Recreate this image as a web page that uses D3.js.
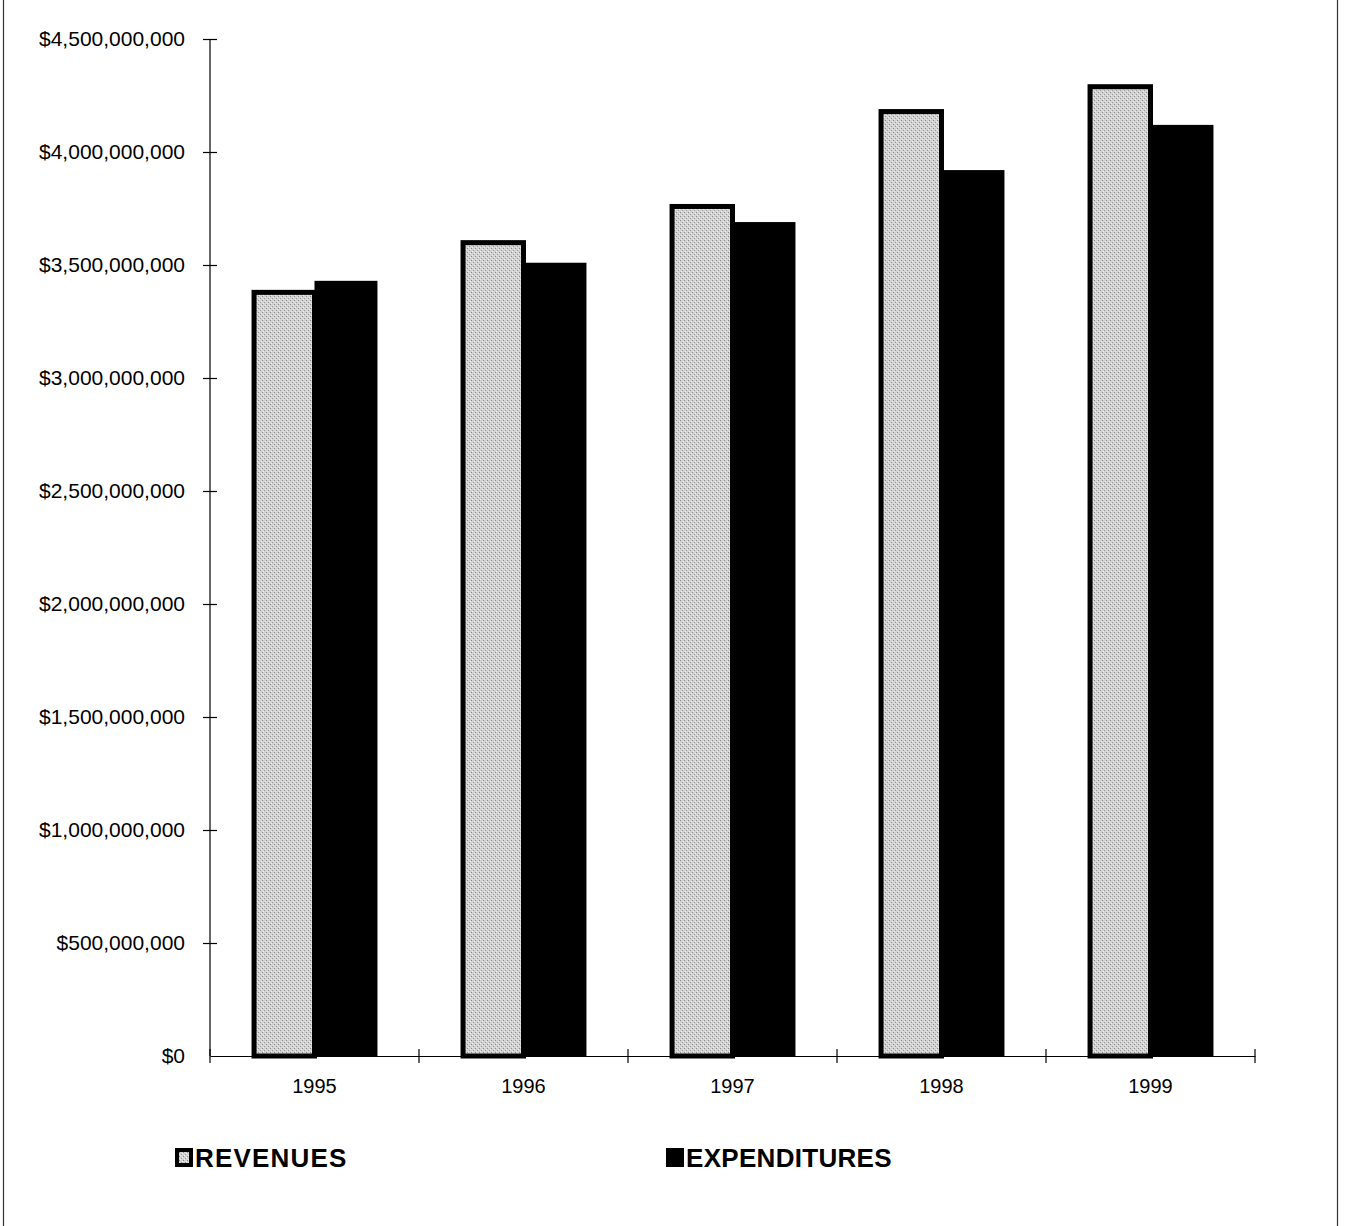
<!DOCTYPE html>
<html>
<head>
<meta charset="utf-8">
<script src="https://cdn.jsdelivr.net/npm/d3@7"></script>
<style>
  html, body { margin: 0; padding: 0; background: #fff; }
  svg { display: block; }
  text { font-family: "Liberation Sans", Arial, Helvetica, sans-serif; fill: #000; }
</style>
</head>
<body>
<svg id="chart" width="1345" height="1226"></svg>
<script>
// Fiscal years shown on the category axis
const years = ["1995", "1996", "1997", "1998", "1999"];
// Series values in dollars
const revenues = [3.39e9, 3.61e9, 3.77e9, 4.19e9, 4.30e9];
const expenditures = [3.43e9, 3.51e9, 3.69e9, 3.92e9, 4.12e9];
const seriesNames = ["REVENUES", "EXPENDITURES"];
// Value axis ticks
const yTicks = [0, 5e8, 1e9, 1.5e9, 2e9, 2.5e9, 3e9, 3.5e9, 4e9, 4.5e9];

const W = 1345, H = 1226;
const plot = { left: 210, right: 1255, top: 39, bottom: 1056 };

const svg = d3.select("#chart");

// stippled grey fill for the revenue bars
const defs = svg.append("defs");
const pat = defs.append("pattern")
  .attr("id", "stipple").attr("width", 4).attr("height", 4)
  .attr("patternUnits", "userSpaceOnUse");
pat.append("rect").attr("width", 4).attr("height", 4).attr("fill", "#d2d2d2");
pat.append("rect").attr("x", 0).attr("y", 0).attr("width", 1).attr("height", 1).attr("fill", "#8a8a8a");
pat.append("rect").attr("x", 2).attr("y", 2).attr("width", 1).attr("height", 1).attr("fill", "#9a9a9a");
pat.append("rect").attr("x", 3).attr("y", 1).attr("width", 1).attr("height", 1).attr("fill", "#f0f0f0");
pat.append("rect").attr("x", 1).attr("y", 3).attr("width", 1).attr("height", 1).attr("fill", "#efefef");

// page frame on the left and right edges
svg.append("line").attr("x1", 3.5).attr("x2", 3.5).attr("y1", 0).attr("y2", H)
  .attr("stroke", "#333").attr("stroke-width", 1.2);
svg.append("line").attr("x1", 1337.5).attr("x2", 1337.5).attr("y1", 0).attr("y2", H)
  .attr("stroke", "#333").attr("stroke-width", 1.2);

const x = d3.scaleBand().domain(years).range([plot.left, plot.right]).padding(0);
const xInner = d3.scaleBand().domain(seriesNames).range([0, x.bandwidth()])
  .paddingInner(0).paddingOuter(0.66);
const y = d3.scaleLinear().domain([0, 4.5e9]).range([plot.bottom, plot.top]);

const rows = years.map((yr, i) => ({ year: yr, values: [revenues[i], expenditures[i]] }));

// bars
const groups = svg.append("g").selectAll("g").data(rows).join("g")
  .attr("transform", d => `translate(${x(d.year)},0)`);

// expenditures first so the revenue outline sits on top
groups.append("rect")
  .attr("x", xInner("EXPENDITURES"))
  .attr("y", d => y(d.values[1]))
  .attr("width", xInner.bandwidth())
  .attr("height", d => y(0) - y(d.values[1]))
  .attr("fill", "#000");

groups.append("rect")
  .attr("x", d => xInner("REVENUES") + 2.5)
  .attr("y", d => y(d.values[0]) + 2.5)
  .attr("width", xInner.bandwidth() - 2.5)
  .attr("height", d => y(0) - y(d.values[0]) - 2.5)
  .attr("fill", "url(#stipple)")
  .attr("stroke", "#000")
  .attr("stroke-width", 5);

// value axis
const yAxis = svg.append("g")
  .attr("transform", `translate(${plot.left},0)`)
  .call(d3.axisLeft(y).tickValues(yTicks).tickSizeOuter(0).tickSizeInner(7).tickPadding(18)
    .tickFormat(d => "$" + d3.format(",")(d)));
yAxis.select(".domain").attr("stroke", "#000").attr("stroke-width", 1.2)
  .attr("d", `M0,${plot.bottom}V${plot.top}`);
yAxis.selectAll(".tick line").attr("x1", -7).attr("x2", 7).attr("stroke-width", 1.2)
  .filter(d => d === 0).remove();
yAxis.selectAll(".tick text").attr("font-size", 21)
  .style("font-family", "'Liberation Sans', Arial, sans-serif");

// category axis
const xAxis = svg.append("g")
  .attr("transform", `translate(0,${plot.bottom})`)
  .call(d3.axisBottom(x).tickSize(0).tickPadding(23).tickSizeOuter(0));
xAxis.select(".domain").attr("stroke", "#000").attr("stroke-width", 1.2);
xAxis.selectAll(".tick text").attr("font-size", 20)
  .style("font-family", "'Liberation Sans', Arial, sans-serif");
const bounds = years.map(d => x(d)).concat([x(years[years.length - 1]) + x.bandwidth()]);
xAxis.selectAll("line.bound").data(bounds).join("line").attr("class", "bound")
  .attr("x1", d => d).attr("x2", d => d).attr("y1", -7).attr("y2", 7)
  .attr("stroke", "#000").attr("stroke-width", 1.2);

// legend
const legend = svg.append("g");
const legendItems = [
  { name: "REVENUES", x: 175, fill: "url(#stipple)", spacing: 1.2 },
  { name: "EXPENDITURES", x: 666, fill: "#000", spacing: 0.3 }
];
const li = legend.selectAll("g").data(legendItems).join("g")
  .attr("transform", d => `translate(${d.x},1148)`);
li.append("rect")
  .attr("x", 2).attr("y", 2).attr("width", 14).attr("height", 15)
  .attr("fill", d => d.fill).attr("stroke", "#000").attr("stroke-width", 4);
li.append("text").text(d => d.name)
  .attr("x", 20).attr("y", 19)
  .attr("letter-spacing", d => d.spacing)
  .attr("font-size", 26).attr("font-weight", "bold");
</script>
</body>
</html>
